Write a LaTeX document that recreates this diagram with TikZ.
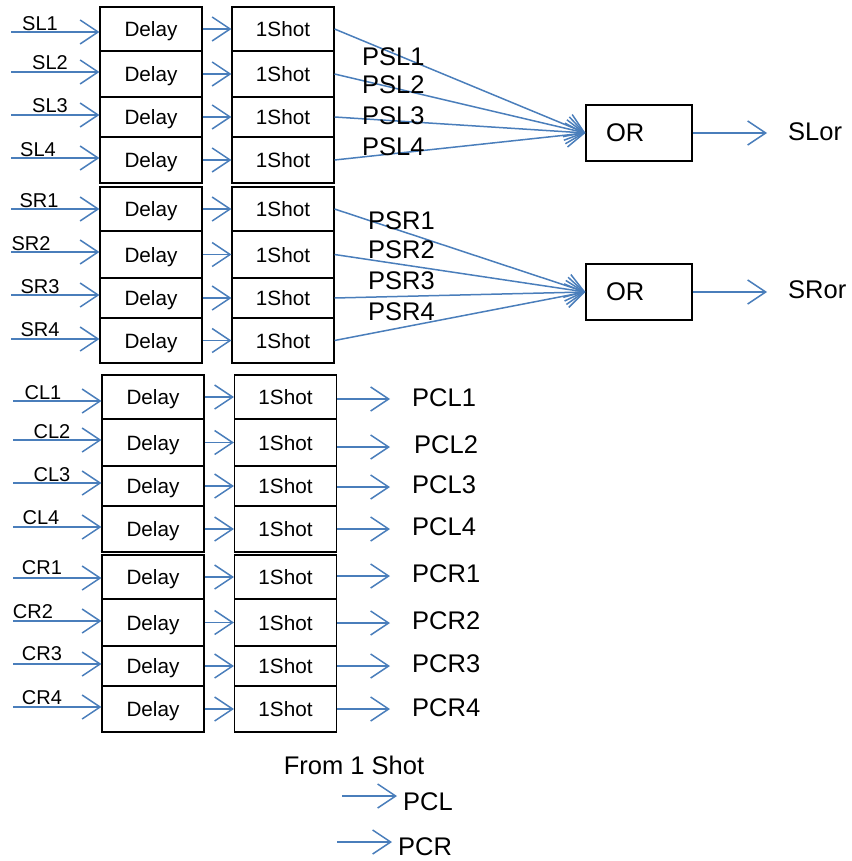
\documentclass[tikz,border=0pt]{standalone}
\usepackage{fontspec}
\setmainfont{Liberation Sans}
\usetikzlibrary{arrows.meta}
\definecolor{lineblue}{RGB}{74,126,187}
\begin{document}
\begin{tikzpicture}[x=1pt,y=-1pt,
  blk/.style={draw=black, line width=1.1pt, inner sep=0pt, minimum width=102pt, text height=15pt, text depth=0pt, font=\fontsize{20.7}{24}\selectfont},
  arr/.style={draw=lineblue, line width=1.5pt, -{Straight Barb[length=18pt,width=24pt]}},
  lbl/.style={inner sep=0pt, font=\fontsize{20}{24}\selectfont},
  big/.style={inner sep=0pt, anchor=west, font=\fontsize{25.5}{30}\selectfont},
  orbox/.style={draw=black, line width=1.1pt, text width=66pt, inner xsep=20pt, inner ysep=0pt, minimum height=56pt, align=left, font=\fontsize{25.5}{30}\selectfont}]
\useasboundingbox (0,0) rectangle (851,861);

% ---------- SL block ----------
\foreach \i/\c/\h/\ay/\lx/\ly in {1/29/44/32/40/24, 2/74/46/72/50/63, 3/117/40/115/50/106, 4/160/46/158/38/150} {
  \node[blk, minimum height=\h pt] (dSL\i) at (151,\c) {Delay};
  \node[blk, minimum height=\h pt] (oSL\i) at (283,\c) {1Shot};
  \coordinate (sSL\i) at (11,\ay);
  \node[lbl] (lSL\i) at (\lx,\ly) {SL\i};
  \draw[arr] (sSL\i) -- (sSL\i -| dSL\i.west);
  \draw[arr] (dSL\i) -- (oSL\i);
}
\node[orbox] (or1) at (639,133) {OR};
\foreach \i/\y in {1/57, 2/85, 3/116, 4/147} {
  \draw[arr] (oSL\i.east) -- (or1.west);
  \node[big] (pSL\i) at (362,\y) {PSL\i};
}
\coordinate (eSL) at (767,133);
\draw[arr] (or1.east) -- (eSL);
\node[big] (tSL) at (788,132) {SLor};

% ---------- SR block ----------
\foreach \i/\c/\h/\ay/\lx/\ly in {1/209/44/209/39/201, 2/254.5/47/252/31/244, 3/298/40/295/40/287, 4/340.5/45/339/40/330} {
  \node[blk, minimum height=\h pt] (dSR\i) at (151,\c) {Delay};
  \node[blk, minimum height=\h pt] (oSR\i) at (283,\c) {1Shot};
  \coordinate (sSR\i) at (11,\ay);
  \node[lbl] (lSR\i) at (\lx,\ly) {SR\i};
  \draw[arr] (sSR\i) -- (sSR\i -| dSR\i.west);
  \draw[arr] (dSR\i) -- (oSR\i);
}
\node[orbox] (or2) at (639,292) {OR};
\foreach \i/\y in {1/221, 2/250, 3/281, 4/312} {
  \draw[arr] (oSR\i.east) -- (or2.west);
  \node[big] (pSR\i) at (368,\y) {PSR\i};
}
\coordinate (eSR) at (767,292);
\draw[arr] (or2.east) -- (eSR);
\node[big] (tSR) at (788,290) {SRor};

% ---------- CL block ----------
\foreach \i/\c/\h/\ay/\lx/\ly/\oy/\px/\py in {1/397/44/401/43/393/399/412/398, 2/442.5/47/440/52/432/447/414/445, 3/486/40/483/52/475/487/412/485, 4/529/46/527/41/518/529/412/527} {
  \node[blk, minimum height=\h pt] (dCL\i) at (153,\c) {Delay};
  \node[blk, minimum height=\h pt] (oCL\i) at (285.5,\c) {1Shot};
  \coordinate (sCL\i) at (13,\ay);
  \node[lbl] (lCL\i) at (\lx,\ly) {CL\i};
  \draw[arr] (sCL\i) -- (sCL\i -| dCL\i.west);
  \draw[arr] (dCL\i) -- (oCL\i);
  \coordinate (eCL\i) at (390,\oy);
  \draw[arr] (oCL\i.east |- eCL\i) -- (eCL\i);
  \node[big] (pCL\i) at (\px,\py) {PCL\i};
}

% ---------- CR block ----------
\foreach \i/\c/\h/\ay/\lx/\ly/\oy/\px/\py in {1/577/44/578/42/568/576/412/574, 2/622.5/47/621/33/612/623/412/621, 3/666/40/664/42/654/666/412/664, 4/709/46/707/42/698/709/412/708} {
  \node[blk, minimum height=\h pt] (dCR\i) at (153,\c) {Delay};
  \node[blk, minimum height=\h pt] (oCR\i) at (285.5,\c) {1Shot};
  \coordinate (sCR\i) at (13,\ay);
  \node[lbl] (lCR\i) at (\lx,\ly) {CR\i};
  \draw[arr] (sCR\i) -- (sCR\i -| dCR\i.west);
  \draw[arr] (dCR\i) -- (oCR\i);
  \coordinate (eCR\i) at (390,\oy);
  \draw[arr] (oCR\i.east |- eCR\i) -- (eCR\i);
  \node[big] (pCR\i) at (\px,\py) {PCR\i};
}

% ---------- legend ----------
\node[inner sep=0pt, font=\fontsize{25.5}{30}\selectfont] (from) at (354,765) {From 1 Shot};
\coordinate (la) at (342,796);
\coordinate (lb) at (397,796);
\draw[arr] (la) -- (lb);
\node[big] (lpcl) at (403,802) {PCL};
\coordinate (ra) at (337,842);
\coordinate (rb) at (392,842);
\draw[arr] (ra) -- (rb);
\node[big] (lpcr) at (398,847) {PCR};
\end{tikzpicture}
\end{document}
